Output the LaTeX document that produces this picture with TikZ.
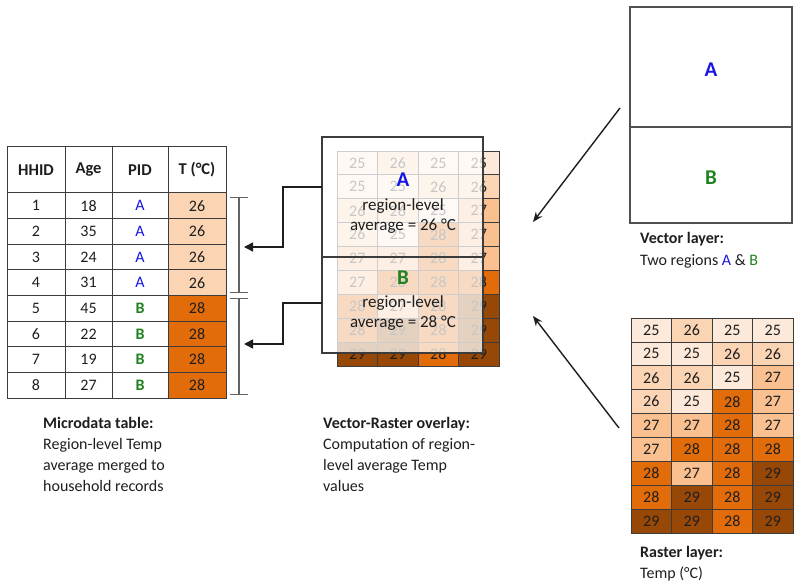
\documentclass[tikz,border=0pt]{standalone}
\usepackage{fontspec}
\setmainfont{Carlito}
\usetikzlibrary{arrows.meta}
\definecolor{c25}{HTML}{FDE9D9}
\definecolor{c26}{HTML}{FBD4B4}
\definecolor{c27}{HTML}{FAC090}
\definecolor{c28}{HTML}{E36C0A}
\definecolor{c29}{HTML}{974806}
\definecolor{regA}{RGB}{20,20,230}
\definecolor{regB}{RGB}{30,130,30}
\definecolor{linegrey}{HTML}{3C3C3C}
\definecolor{txt}{HTML}{1E1E1E}
\newcommand\pidA{\textcolor{regA}{A}}
\newcommand\pidB{\textcolor{regB}{\bfseries B}}
\newcommand\rastergrid[3]{%
  \foreach \row [count=\i] in {{25,26,25,25},{25,25,26,26},{26,26,25,27},{26,25,28,27},{27,27,28,27},{27,28,28,28},{28,27,28,29},{28,29,28,29},{29,29,28,29}} {
    \foreach \v [count=\j] in \row {
      \node[rcell, fill=c\v] (#3-\i-\j) at ({#1+40.5*\j-20.25},{#2+23.9*\i-11.95}) {\v};
    }
  }%
}
\begin{document}
\begin{tikzpicture}[x=1pt,y=-1pt,
  font=\fontsize{16}{21}\selectfont, text=txt,
  rcell/.style={draw=linegrey, line width=0.8pt, inner sep=0pt, minimum width=40.5pt, minimum height=23.9pt},
  tcell/.style={draw=linegrey, line width=1pt, inner sep=0pt, minimum height=25.625pt},
  hdr/.style={tcell, minimum height=46pt, font=\fontsize{16.5}{21}\selectfont\bfseries},
  caption/.style={anchor=base west, align=left, inner sep=0pt},
  vbox/.style={draw=linegrey!90, line width=1.2pt, inner sep=0pt, minimum width=162pt},
  conn/.style={draw=txt, line width=1.5pt, -{Triangle[length=9pt,width=9pt]}},
  diag/.style={draw=txt, line width=1.4pt, -{Stealth[length=10pt,width=8pt]}},
  bracket/.style={draw=linegrey!80, line width=1.2pt, {Bar[width=18pt]}-{Bar[width=18pt]}},
  big/.style={font=\fontsize{21}{24}\selectfont\bfseries},
  ovtxt/.style={align=center, font=\fontsize{17}{19.5}\selectfont}
]
\useasboundingbox (0,0) rectangle (800,588);

% ---------- Microdata table ----------
\node[hdr, minimum width=58pt] (h1) at (36,170) {HHID};
\node[hdr, minimum width=47pt] (h2) at (88.5,170) {Age};
\node[hdr, minimum width=56pt] (h3) at (140,170) {PID};
\node[hdr, minimum width=58pt] (h4) at (197,170) {T (°C)};
\foreach \hh/\age/\pid/\t [count=\i] in {1/18/A/26, 2/35/A/26, 3/24/A/26, 4/31/A/26, 5/45/B/28, 6/22/B/28, 7/19/B/28, 8/27/B/28} {
  \pgfmathsetmacro\yy{193+25.625*\i-12.8125}
  \node[tcell, minimum width=58pt] (hh\i) at (36,\yy) {\hh};
  \node[tcell, minimum width=47pt] (age\i) at (88.5,\yy) {\age};
  \node[tcell, minimum width=56pt] (pid\i) at (140,\yy) {\csname pid\pid\endcsname};
  \node[tcell, minimum width=58pt, fill=c\t] (t\i) at (197,\yy) {\t};
}

% brackets
\coordinate (brA1) at (239,197);
\coordinate (brA2) at (239,293);
\coordinate (brB1) at (239,298);
\coordinate (brB2) at (239,395);
\draw[bracket] (brA1) -- (brA2);
\draw[bracket] (brB1) -- (brB2);

% ---------- Overlay ----------
\rastergrid{337}{151}{o}
\node[draw=linegrey, line width=1.2pt, fill=white, fill opacity=0.75, inner sep=0pt,
      minimum width=161pt, minimum height=216pt] (ovbox) at (402.5,245) {};
\coordinate (ovdivL) at (322,257);
\coordinate (ovdivR) at (483,257);
\draw[linegrey, line width=1.2pt] (ovdivL) -- (ovdivR);
\node[big, text=regA] (ovA) at (403,180) {A};
\node[ovtxt] (ovAtxt) at (403,216) {region-level\\average = 26 °C};
\node[big, text=regB] (ovB) at (403,278) {B};
\node[ovtxt] (ovBtxt) at (403,313) {region-level\\average = 28 °C};

% connectors overlay -> table
\coordinate (sA) at (322,187);
\coordinate (tA) at (244,247);
\coordinate (sB) at (322,303);
\coordinate (tB) at (244,344);
\draw[conn] (sA) -- (283,187) -- (283,247) -- (tA);
\draw[conn] (sB) -- (283,303) -- (283,344) -- (tB);

% ---------- Vector layer ----------
\node[vbox, minimum height=120pt] (vA) at (711,67) {};
\node[vbox, minimum height=96pt] (vB) at (711,175) {};
\node[big, text=regA] (vAl) at (711,70) {A};
\node[big, text=regB] (vBl) at (711,178) {B};

% ---------- Raster layer ----------
\rastergrid{631}{318}{r}

% diagonal arrows
\coordinate (vs) at (620,108);
\coordinate (vt) at (533,222);
\coordinate (rs) at (619,428);
\coordinate (rt) at (533,316);
\draw[diag] (vs) -- (vt);
\draw[diag] (rs) -- (rt);

% ---------- Captions (base = last line) ----------
\node[caption] (capT) at (43,491) {\textbf{Microdata table:}\\Region-level Temp\\average merged to\\household records};
\node[caption] (capO) at (323,491) {\textbf{Vector-Raster overlay:}\\Computation of region-\\level average Temp\\values};
\node[caption] (capV) at (640,265) {\textbf{Vector layer:}\\Two regions \textcolor{regA}{A} \& \textcolor{regB}{B}};
\node[caption] (capR) at (640,578) {\textbf{Raster layer:}\\Temp (°C)};
\end{tikzpicture}
\end{document}
